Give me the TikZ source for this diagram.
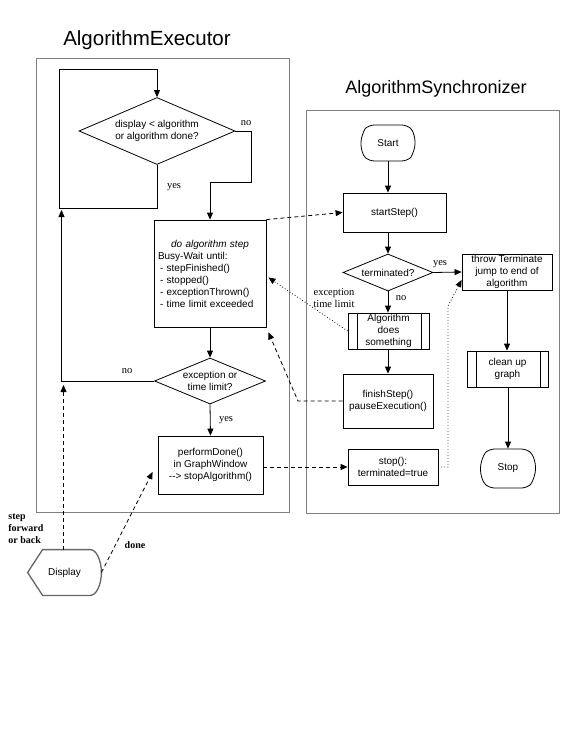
\documentclass[tikz,border=0pt]{standalone}
\usepackage{fontspec}
\setmainfont{Liberation Sans}
\newfontfamily\seriffont{Liberation Serif}
\usetikzlibrary{arrows.meta,shapes.geometric,shapes.misc,calc}
\begin{document}
\begin{tikzpicture}[x=1pt,y=-1pt,
  font=\fontsize{10}{12}\selectfont,
  line width=0.8pt,
  container/.style={draw=black!50, line width=0.9pt},
  proc/.style={draw, rectangle, inner sep=0pt, align=center},
  dec/.style={draw, diamond, inner sep=0pt, align=center, aspect=2.4},
  terminal/.style={draw, rounded rectangle, rounded rectangle arc length=100, rounded corners=5pt, inner sep=0pt},
  subproc/.style={proc, path picture={
      \draw ([xshift=9pt]path picture bounding box.north west) -- ([xshift=9pt]path picture bounding box.south west);
      \draw ([xshift=-8pt]path picture bounding box.north east) -- ([xshift=-8pt]path picture bounding box.south east);}},
  arr/.style={-{Triangle[length=7pt,width=6pt]}},
  dasharr/.style={arr, dash pattern=on 4pt off 3pt},
  dotarr/.style={arr, dash pattern=on 0.8pt off 2.2pt},
  lbl/.style={font=\seriffont\fontsize{10.5}{12}\selectfont, inner sep=0pt},
  blbl/.style={font=\seriffont\bfseries\fontsize{10}{12}\selectfont, align=left, inner sep=0pt},
  titletext/.style={inner sep=0pt}
]
\useasboundingbox[fill=white] (0,0) rectangle (576,733);

% titles
\node[titletext, font=\fontsize{20.5}{22}\selectfont] (t1) at (147,40) {AlgorithmExecutor};
\node[titletext, font=\fontsize{18}{20}\selectfont] (t2) at (436,89) {AlgorithmSynchronizer};

% containers
\draw[container] (36,58) rectangle (289,512);
\draw[container] (306,110) rectangle (559,513);

% left side nodes
\node[dec, minimum width=156pt, minimum height=67pt] (d1) at (157,131) {display < algorithm\\or algorithm done?};
\node[proc, minimum width=112pt, minimum height=107pt, text width=104pt, align=left] (box1) at (210,273.5)
  {\makebox[\linewidth][c]{\itshape do algorithm step}\\Busy-Wait until:\\
   \hspace*{2pt}- stepFinished()\\ \hspace*{2pt}- stopped()\\ \hspace*{2pt}- exceptionThrown()\\ \hspace*{2pt}- time limit exceeded};
\node[dec, minimum width=111pt, minimum height=46pt] (d2) at (210,381) {exception or\\time limit?};
\node[proc, minimum width=105pt, minimum height=58pt] (box2) at (210.5,465) {performDone()\\in GraphWindow\\-{}-{}> stopAlgorithm()};
\node[minimum width=73pt, minimum height=45pt, inner sep=0pt] (disp) at (64.5,572.5) {Display};
\draw[draw=black!60, line width=1.3pt] (disp.west) -- ([xshift=15pt]disp.north west) -- ([xshift=-11pt]disp.north east)
  .. controls ([xshift=-5pt]disp.north east) and ([yshift=12pt]disp.east) .. (disp.east)
  .. controls ([yshift=-12pt]disp.east) and ([xshift=-5pt]disp.south east) .. ([xshift=-11pt]disp.south east)
  -- ([xshift=15pt]disp.south west) -- cycle;

% right side nodes
\node[terminal, minimum width=54pt, minimum height=36pt] (start) at (388,143) {Start};
\node[proc, minimum width=103pt, minimum height=39pt] (sstep) at (394.5,212.5) {startStep()};
\node[dec, minimum width=90pt, minimum height=37pt] (term) at (388,272.5) {terminated?};
\node[proc, minimum width=90pt, minimum height=36pt] (throw) at (507,272) {throw Terminate\\jump to end of\\algorithm};
\node[subproc, minimum width=81pt, minimum height=36pt] (algo) at (388.5,331) {Algorithm\\does\\something};
\node[proc, minimum width=90pt, minimum height=54pt] (finish) at (388,401) {finishStep()\\pauseExecution()};
\node[proc, minimum width=90pt, minimum height=36pt] (stopf) at (393,467) {stop():\\terminated=true};
\node[subproc, minimum width=81pt, minimum height=36pt] (clean) at (507.5,369) {clean up\\graph};
\node[terminal, minimum width=55pt, minimum height=39pt] (stopt) at (508,468.5) {Stop};

% coordinates for bends
\coordinate (l1) at (157,208);
\coordinate (l2) at (59.5,208);
\coordinate (l3) at (59.5,69);
\coordinate (l4) at (157,69);
\coordinate (n1) at (251,131);
\coordinate (n2) at (251,182);
\coordinate (n3) at (210,182);
\coordinate (m1) at (61.5,381);
\coordinate (m2) at (61.5,210);
\coordinate (sfb) at (63.5,385);
\coordinate (f1) at (298,401);
\coordinate (s1) at (448,467);
\coordinate (s2) at (448,306);

% left connectors
\draw[arr] (d1.south) -- (l1) -- (l2) -- (l3) -- (l4) -- (d1.north);
\draw[arr] (d1.east) -- (n1) -- (n2) -- (n3) -- (box1.north);
\draw[arr] (box1.south) -- (d2.north);
\draw[arr] (d2.west) -- (m1) -- (m2);
\draw[arr] (d2.south) -- (box2.north);
\draw[dasharr] (disp.north -| sfb) -- (sfb);
\draw[dasharr] (disp.east) -- ([xshift=-5pt,yshift=-7pt]box2.west);

% cross connectors
\draw[dasharr] (box1.north east) -- (sstep.west);
\draw[dasharr] (finish.west) -- (f1) -- ([xshift=2pt,yshift=-5pt]box1.south east);
\draw[dotarr] (algo.west) -- ([xshift=2pt,yshift=-4pt]box1.east);
\draw[dasharr] (box2.east |- stopf.west) -- (stopf.west);
\draw[dotarr] (stopf.east) -- (s1) -- (s2) -- ([yshift=-8pt]throw.west);

% right connectors
\draw[arr] (start.south) -- (start.south |- sstep.north);
\draw[arr] (sstep.south -| term.north) -- (term.north);
\draw[arr] (term.east) -- (throw.west);
\draw[arr] (term.south) -- (term.south |- algo.north);
\draw[arr] (algo.south -| finish.north) -- (finish.north);
\draw[arr] (throw.south) -- (throw.south |- clean.north);
\draw[arr] (clean.south -| stopt.north) -- (stopt.north);

% labels
\node[lbl] (yes1) at (174,187) {yes};
\node[lbl] (no1) at (246,123) {no};
\node[lbl] (no2) at (127,371) {no};
\node[lbl] (yes2) at (226,420) {yes};
\node[lbl] (yes3) at (440,264) {yes};
\node[lbl] (no3) at (401,298) {no};
\node[lbl, align=center] (exc) at (334,298) {exception\\time limit};
\node[blbl, anchor=west] (sfb lbl) at (8,529) {step\\forward\\or back};
\node[blbl] (done) at (135,545) {done};
\end{tikzpicture}
\end{document}
